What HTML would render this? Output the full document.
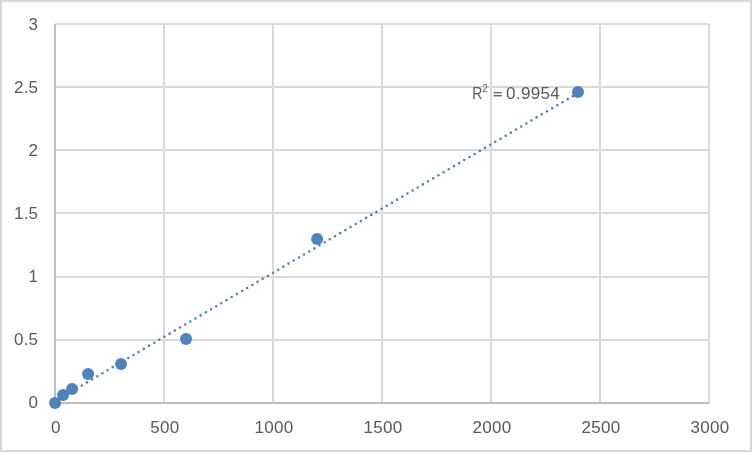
<!DOCTYPE html>
<html><head><meta charset="utf-8"><title>Chart</title>
<style>html,body{margin:0;padding:0;background:#fff;}body{width:752px;height:452px;overflow:hidden;}svg{display:block;position:absolute;left:0;top:0;will-change:transform;}text{font-family:"Liberation Sans",sans-serif;font-size:17px;fill:#595959;}</style></head><body>
<svg width="752" height="452" viewBox="0 0 752 452">
<rect x="0" y="0" width="752" height="452" fill="#fff"/>
<rect x="1" y="1" width="750" height="450" fill="none" stroke="#D9D9D9" stroke-width="2"/>
<line x1="164" y1="24" x2="164" y2="403" stroke="#D9D9D9" stroke-width="2"/>
<line x1="273" y1="24" x2="273" y2="403" stroke="#D9D9D9" stroke-width="2"/>
<line x1="382" y1="24" x2="382" y2="403" stroke="#D9D9D9" stroke-width="2"/>
<line x1="491" y1="24" x2="491" y2="403" stroke="#D9D9D9" stroke-width="2"/>
<line x1="600" y1="24" x2="600" y2="403" stroke="#D9D9D9" stroke-width="2"/>
<line x1="709" y1="24" x2="709" y2="403" stroke="#D9D9D9" stroke-width="2"/>
<line x1="55" y1="340" x2="709" y2="340" stroke="#D9D9D9" stroke-width="2"/>
<line x1="55" y1="277" x2="709" y2="277" stroke="#D9D9D9" stroke-width="2"/>
<line x1="55" y1="213" x2="709" y2="213" stroke="#D9D9D9" stroke-width="2"/>
<line x1="55" y1="150" x2="709" y2="150" stroke="#D9D9D9" stroke-width="2"/>
<line x1="55" y1="87" x2="709" y2="87" stroke="#D9D9D9" stroke-width="2"/>
<line x1="55" y1="24" x2="709" y2="24" stroke="#D9D9D9" stroke-width="2"/>
<rect x="163" y="339" width="2" height="2" fill="#DEDEDE"/>
<rect x="163" y="276" width="2" height="2" fill="#DEDEDE"/>
<rect x="163" y="212" width="2" height="2" fill="#DEDEDE"/>
<rect x="163" y="149" width="2" height="2" fill="#DEDEDE"/>
<rect x="163" y="86" width="2" height="2" fill="#DEDEDE"/>
<rect x="272" y="339" width="2" height="2" fill="#DEDEDE"/>
<rect x="272" y="276" width="2" height="2" fill="#DEDEDE"/>
<rect x="272" y="212" width="2" height="2" fill="#DEDEDE"/>
<rect x="272" y="149" width="2" height="2" fill="#DEDEDE"/>
<rect x="272" y="86" width="2" height="2" fill="#DEDEDE"/>
<rect x="381" y="339" width="2" height="2" fill="#DEDEDE"/>
<rect x="381" y="276" width="2" height="2" fill="#DEDEDE"/>
<rect x="381" y="212" width="2" height="2" fill="#DEDEDE"/>
<rect x="381" y="149" width="2" height="2" fill="#DEDEDE"/>
<rect x="381" y="86" width="2" height="2" fill="#DEDEDE"/>
<rect x="490" y="339" width="2" height="2" fill="#DEDEDE"/>
<rect x="490" y="276" width="2" height="2" fill="#DEDEDE"/>
<rect x="490" y="212" width="2" height="2" fill="#DEDEDE"/>
<rect x="490" y="149" width="2" height="2" fill="#DEDEDE"/>
<rect x="490" y="86" width="2" height="2" fill="#DEDEDE"/>
<rect x="599" y="339" width="2" height="2" fill="#DEDEDE"/>
<rect x="599" y="276" width="2" height="2" fill="#DEDEDE"/>
<rect x="599" y="212" width="2" height="2" fill="#DEDEDE"/>
<rect x="599" y="149" width="2" height="2" fill="#DEDEDE"/>
<rect x="599" y="86" width="2" height="2" fill="#DEDEDE"/>
<line x1="55" y1="24" x2="55" y2="404" stroke="#BFBFBF" stroke-width="2"/>
<line x1="54" y1="403" x2="709" y2="403" stroke="#BFBFBF" stroke-width="2"/>
<text x="38.15" y="408" text-anchor="end" style="letter-spacing:0.15px">0</text>
<text x="38.15" y="345" text-anchor="end" style="letter-spacing:0.15px">0.5</text>
<text x="38.15" y="282" text-anchor="end" style="letter-spacing:0.15px">1</text>
<text x="38.15" y="219" text-anchor="end" style="letter-spacing:0.15px">1.5</text>
<text x="38.15" y="156" text-anchor="end" style="letter-spacing:0.15px">2</text>
<text x="38.15" y="93" text-anchor="end" style="letter-spacing:0.15px">2.5</text>
<text x="38.15" y="30" text-anchor="end" style="letter-spacing:0.15px">3</text>
<text x="55.95" y="433" text-anchor="middle" style="letter-spacing:0.3px">0</text>
<text x="164.95" y="433" text-anchor="middle" style="letter-spacing:0.3px">500</text>
<text x="273.95" y="433" text-anchor="middle" style="letter-spacing:0.3px">1000</text>
<text x="382.95" y="433" text-anchor="middle" style="letter-spacing:0.3px">1500</text>
<text x="491.95" y="433" text-anchor="middle" style="letter-spacing:0.3px">2000</text>
<text x="600.95" y="433" text-anchor="middle" style="letter-spacing:0.3px">2500</text>
<text x="709.95" y="433" text-anchor="middle" style="letter-spacing:0.3px">3000</text>
<line x1="55.90" y1="400.67" x2="578.00" y2="93.05" stroke="#4F81BD" stroke-width="2.6" stroke-linecap="round" stroke-dasharray="0 6"/>
<circle cx="55.04" cy="402.99" r="6" fill="#4F81BD"/>
<circle cx="63.09" cy="395.00" r="6" fill="#4F81BD"/>
<circle cx="72.07" cy="389.00" r="6" fill="#4F81BD"/>
<circle cx="88.06" cy="373.94" r="6" fill="#4F81BD"/>
<circle cx="121.05" cy="364.06" r="6" fill="#4F81BD"/>
<circle cx="186.03" cy="339.04" r="6" fill="#4F81BD"/>
<circle cx="317.11" cy="238.92" r="6" fill="#4F81BD"/>
<circle cx="578.00" cy="91.90" r="6" fill="#4F81BD"/>
<text transform="translate(472.2 99.2) scale(0.82 1)" x="0" y="0">R</text>
<text x="482.3" y="92.2" style="font-size:10px">2</text>
<rect x="493.6" y="92.1" width="8.2" height="1.3" fill="#595959"/>
<rect x="493.6" y="95.05" width="8.2" height="1.35" fill="#595959"/>
<text x="506" y="99.2" style="letter-spacing:0.35px">0.9954</text>
</svg></body></html>
